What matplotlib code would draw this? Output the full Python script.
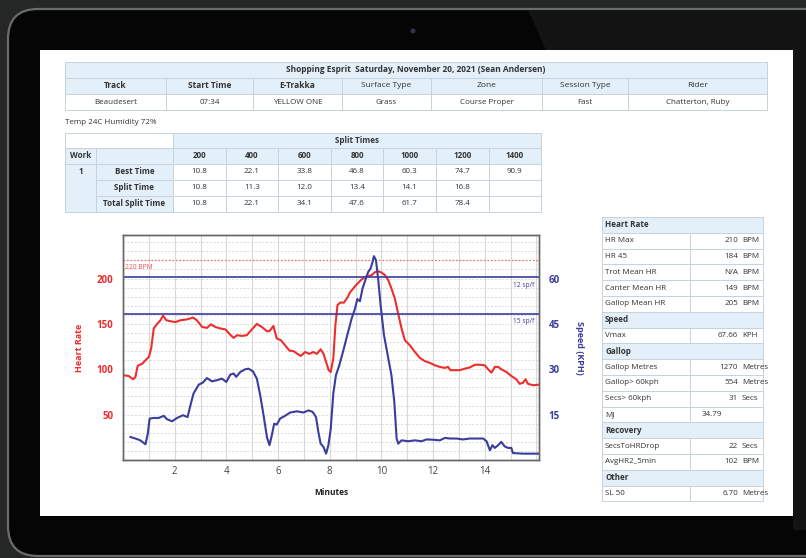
import numpy as np
import matplotlib.pyplot as plt
from matplotlib.patches import Rectangle, FancyBboxPatch, Circle, Polygon

plt.rcParams['font.family'] = ['Open Sans', 'DejaVu Sans']

# ---------------- data ----------------
title = "Shopping Esprit  Saturday, November 20, 2021 (Sean Andersen)"
info_headers = ["Track", "Start Time", "E-Trakka", "Surface Type", "Zone", "Session Type", "Rider"]
info_values = ["Beaudesert", "07:34", "YELLOW ONE", "Grass", "Course Proper", "Fast", "Chatterton, Ruby"]
weather = "Temp 24C Humidity 72%"

split_dist = ["200", "400", "600", "800", "1000", "1200", "1400"]
best_time = [10.8, 22.1, 33.8, 46.8, 60.3, 74.7, 90.9]
split_time = [10.8, 11.3, 12.0, 13.4, 14.1, 16.8]
total_split = [10.8, 22.1, 34.1, 47.6, 61.7, 78.4]

hr_section = [("HR Max", "210", "BPM"), ("HR 45", "184", "BPM"), ("Trot Mean HR", "N/A", "BPM"),
              ("Canter Mean HR", "149", "BPM"), ("Gallop Mean HR", "205", "BPM")]
speed_section = [("Vmax", "67.66", "KPH")]
gallop_section = [("Gallop Metres", "1270", "Metres"), ("Gallop> 60kph", "554", "Metres"),
                  ("Secs> 60kph", "31", "Secs"), ("MJ", "34.79", "")]
recovery_section = [("SecsToHRDrop", "22", "Secs"), ("AvgHR2_5min", "102", "BPM")]
other_section = [("SL 50", "6.70", "Metres")]
sections = [("Heart Rate", hr_section), ("Speed", speed_section), ("Gallop", gallop_section),
            ("Recovery", recovery_section), ("Other", other_section)]

# heart rate trace (minutes, bpm)
hr_min = [0.03, 0.22, 0.39, 0.48, 0.57, 0.74, 0.87, 1.0, 1.09, 1.19, 1.32, 1.45, 1.55, 1.68, 1.83,
          2.03, 2.22, 2.48, 2.71, 2.86, 3.06, 3.25, 3.40, 3.57, 3.76, 3.96, 4.12, 4.28, 4.41, 4.60,
          4.79, 4.99, 5.18, 5.37, 5.57, 5.67, 5.82, 5.95, 6.11, 6.27, 6.44, 6.60, 6.75, 6.88, 7.05,
          7.21, 7.37, 7.50, 7.65, 7.76, 7.86, 7.96, 8.04, 8.14, 8.22, 8.30, 8.40, 8.55, 8.68, 8.79,
          8.91, 9.04, 9.20, 9.36, 9.53, 9.62, 9.75, 9.88, 10.01, 10.14, 10.27, 10.39, 10.52, 10.65,
          10.78, 10.91, 11.10, 11.30, 11.49, 11.68, 11.88, 12.07, 12.26, 12.46, 12.58, 12.67, 12.84,
          13.03, 13.23, 13.42, 13.62, 13.81, 14.0, 14.13, 14.26, 14.39, 14.52, 14.64, 14.84, 15.03,
          15.22, 15.35, 15.48, 15.58, 15.67, 15.87, 16.08]
hr_bpm = [93.4, 92.6, 89, 91.5, 104, 106, 110, 113.6, 123, 145, 150, 154, 159, 154, 153,
          152, 154, 155, 157, 154, 146.7, 145.6, 149.6, 146.7, 145, 144, 139, 134.6, 137.5, 136.8,
          137.5, 144, 150, 146.7, 142, 142, 147.8, 134, 132, 126.5, 120.6, 120, 117, 114.7, 119,
          117, 119, 117, 122, 117, 108, 99, 97, 112, 148.5, 170.6, 173.5, 173.5, 178.7, 185,
          189, 193.4, 198, 201.8, 203, 203.7, 207, 208, 206.6, 203.7, 198, 189, 178, 161.4,
          145, 132, 126.5, 119, 112.5, 109, 107, 104.4, 102.6, 101.5, 102.6, 99, 99,
          99, 100.7, 102, 105, 105, 104.4, 100, 96.3, 102.6, 102.6, 100, 97, 92.6,
          89, 84, 85, 89, 84, 82.4, 83]

# speed trace (minutes, kph)
spd_min = [0.29, 0.48, 0.67, 0.87, 0.96, 1.03, 1.19, 1.38, 1.58, 1.70, 1.90, 2.09, 2.32, 2.50,
           2.61, 2.73, 2.93, 3.09, 3.25, 3.44, 3.64, 3.83, 4.00, 4.15, 4.28, 4.38, 4.54, 4.73,
           4.86, 5.03, 5.18, 5.31, 5.44, 5.57, 5.67, 5.76, 5.85, 5.95, 6.08, 6.27, 6.47, 6.73,
           6.98, 7.18, 7.34, 7.47, 7.56, 7.65, 7.76, 7.86, 7.95, 8.04, 8.14, 8.24, 8.37, 8.53,
           8.68, 8.85, 8.98, 9.07, 9.17, 9.27, 9.40, 9.49, 9.58, 9.66, 9.71, 9.79, 9.88, 9.97,
           10.10, 10.27, 10.39, 10.50, 10.59, 10.65, 10.78, 11.04, 11.30, 11.55, 11.75, 12.00,
           12.26, 12.46, 12.65, 12.91, 13.16, 13.42, 13.68, 13.94, 14.07, 14.20, 14.30, 14.39,
           14.52, 14.64, 14.77, 14.90, 15.03, 15.09, 15.48, 16.08]
spd_kph = [7.6, 7.1, 6.5, 5.2, 8.7, 13.7, 13.9, 13.9, 14.6, 13.5, 12.8, 13.9, 14.8, 14.2,
           18.1, 22, 24.9, 25.6, 27.1, 26, 26.4, 26.9, 25.8, 28.2, 28.6, 27.5, 29.1, 30,
           30.2, 29.3, 26.9, 21.4, 14.8, 7.6, 4.9, 8.2, 12, 11.7, 13.7, 14.6, 15.7, 16.1,
           15.7, 16.4, 15.9, 14.2, 9.3, 5.4, 4.3, 2.1, 4.9, 10.4, 22, 28, 31.3, 36.3,
           41.3, 46.8, 50.1, 53.2, 52.5, 56.7, 60, 62.2, 63.3, 65.5, 67.4, 66.1, 59.4, 51.2,
           41.3, 33.5, 28, 19.2, 7.1, 5.4, 6.5, 6.2, 6.5, 6.2, 6.8, 6.7,
           6.5, 7.3, 7.1, 7.1, 6.8, 7.1, 7.1, 7.1, 6.2, 3.2, 4.9, 4.0,
           4.9, 6.0, 4.5, 4.0, 4.0, 2.3, 2.1, 2.1]

hr_limit = 220
sf_lines = [("12 sp/f", 60.35), ("15 sp/f", 48.28)]

# ---------------- styling ----------------
W, H = 806, 558
HEAD = '#e4f0f9'
EDGE = '#c8d2da'
TXT = '#333333'
RED = '#ee2d2d'
BLUE = '#3a3d9c'

fig = plt.figure(figsize=(W / 100, H / 100), dpi=100, facecolor='#252626')
bg = fig.add_axes([0, 0, 1, 1])
bg.set_xlim(0, W)
bg.set_ylim(H, 0)
bg.axis('off')

# tablet body and screen
bg.add_patch(FancyBboxPatch((8, 9), 880, 547, boxstyle="round,pad=0,rounding_size=30",
                            fc='#050505', ec='#6c6c6c', lw=1.6))
bg.add_patch(Polygon([(528, 10), (806, 10), (806, 530), (793, 530), (793, 50), (546, 50)],
                     closed=True, fc='#131313', ec='none'))
bg.add_patch(Circle((413, 31), 2.5, fc='#30344a', ec='none'))
bg.add_patch(Rectangle((40, 50), 753, 466, fc='white', ec='none'))


def cell(x0, x1, y0, y1, text='', fill='white', bold=False, ha='center', size=5.8):
    bg.add_patch(Rectangle((x0, y0), x1 - x0, y1 - y0, fc=fill, ec=EDGE, lw=0.7))
    if text != '':
        if ha == 'center':
            tx = (x0 + x1) / 2
        elif ha == 'left':
            tx = x0 + 3
        else:
            tx = x1 - 3
        bg.text(tx, (y0 + y1) / 2, text, ha=ha, va='center', fontsize=size, color=TXT,
                fontweight='bold' if bold else 'normal')


# info table
cols = [65, 166, 253, 342, 431, 542, 628, 767]
rows = [62, 77.5, 94, 110]
cell(cols[0], cols[-1], rows[0], rows[1], title, HEAD, bold=True, size=6)
for i, (h, v) in enumerate(zip(info_headers, info_values)):
    cell(cols[i], cols[i + 1], rows[1], rows[2], h, HEAD, bold=(i < 3), size=6)
    cell(cols[i], cols[i + 1], rows[2], rows[3], v, 'white', size=5.8)

bg.text(65, 122, weather, fontsize=5.8, color=TXT, va='center')

# split table
scol = [65, 96, 173] + [173 + 52.6 * (k + 1) for k in range(7)]
srow = [133, 148, 163.5, 179.5, 195.5, 212]
cell(scol[0], scol[2], srow[0], srow[1])
cell(scol[2], scol[-1], srow[0], srow[1], "Split Times", HEAD, bold=True)
cell(scol[0], scol[1], srow[1], srow[2], "Work", HEAD, bold=True)
cell(scol[1], scol[2], srow[1], srow[2], "", HEAD)
for k, d in enumerate(split_dist):
    cell(scol[k + 2], scol[k + 3], srow[1], srow[2], d, HEAD, bold=True)
bg.add_patch(Rectangle((scol[0], srow[2]), scol[1] - scol[0], srow[5] - srow[2], fc=HEAD, ec=EDGE, lw=0.7))
bg.text((scol[0] + scol[1]) / 2, (srow[2] + srow[3]) / 2, "1", ha='center', va='center',
        fontsize=5.8, color=TXT, fontweight='bold')
for r, (lab, vals) in enumerate([("Best Time", best_time), ("Split Time", split_time),
                                 ("Total Split Time", total_split)]):
    cell(scol[1], scol[2], srow[r + 2], srow[r + 3], lab, HEAD, bold=True)
    for k in range(7):
        txt = f"{vals[k]:.1f}" if k < len(vals) else ''
        cell(scol[k + 2], scol[k + 3], srow[r + 2], srow[r + 3], txt)

# stats table
tx0, tdiv, tx1 = 602, 690, 763
ty = 217
rh = 15.8
for name, items in sections:
    cell(tx0, tx1, ty, ty + rh, name, HEAD, bold=True, ha='left', size=5.8)
    ty += rh
    for lab, val, unit in items:
        cell(tx0, tdiv, ty, ty + rh, lab, ha='left', size=5.8)
        cell(tdiv, tx1, ty, ty + rh)
        if unit:
            bg.text(738, ty + rh / 2, val, ha='right', va='center', fontsize=5.8, color=TXT)
            bg.text(742, ty + rh / 2, unit, ha='left', va='center', fontsize=5.8, color=TXT)
        else:
            bg.text(tdiv + 12, ty + rh / 2, val, ha='left', va='center', fontsize=5.8, color=TXT)
        ty += rh

# ---------------- chart ----------------
ax = fig.add_axes([123 / W, 1 - 460 / H, (539 - 123) / W, (460 - 235) / H])
ax.set_facecolor('white')
ax2 = ax.twinx()

ax.set_xlim(0, 16.1)
ax.set_ylim(0, 248)
ax2.set_ylim(0, 248 * 0.3)

ax.set_xticks([2, 4, 6, 8, 10, 12, 14])
ax.set_xticks(np.arange(1, 17), minor=True)
ax.set_yticks([50, 100, 150, 200])
ax.set_yticks(np.arange(10, 250, 10), minor=True)
ax2.set_yticks([15, 30, 45, 60])

ax.grid(which='both', axis='x', color='#d8d8d8', lw=0.8)
ax.grid(which='both', axis='y', color='#d6d6d6', lw=0.6, ls=(0, (2.5, 2)))
ax.set_axisbelow(True)

ax.axhline(hr_limit, color='#f07070', lw=0.9, ls=(0, (1.2, 1.6)))
ax.text(0.08, 212, f"{hr_limit} BPM", color='#f05050', fontsize=4.8, va='center')
ax.plot(hr_min, hr_bpm, color=RED, lw=1.5)

for lab, v in sf_lines:
    ax2.axhline(v, color=BLUE, lw=1.2)
    ax2.text(15.9, v - 2.6, lab, color=BLUE, fontsize=4.8, ha='right', va='center')
ax2.plot(spd_min, spd_kph, color=BLUE, lw=1.5)

ax.tick_params(axis='both', which='both', length=0)
ax.tick_params(axis='y', pad=7, labelcolor=RED, labelsize=7)
ax.tick_params(axis='x', pad=4, labelcolor='#444444', labelsize=7)
ax2.tick_params(axis='y', length=0, pad=7, labelcolor=BLUE, labelsize=7)
for t in ax.get_yticklabels() + ax2.get_yticklabels():
    t.set_fontweight('bold')

ax.set_ylabel("Heart Rate", color=RED, fontsize=6.5, fontweight='bold', labelpad=9)
ax2.set_ylabel("Speed (KPH)", color=BLUE, fontsize=6.5, fontweight='bold', rotation=270, labelpad=17)
ax.set_xlabel("Minutes", color='#222222', fontsize=6, fontweight='bold', labelpad=8)

for a in (ax, ax2):
    for s in a.spines.values():
        s.set_color('#666666')
        s.set_linewidth(1.0)

fig.savefig("out.png", dpi=100, facecolor=fig.get_facecolor())
